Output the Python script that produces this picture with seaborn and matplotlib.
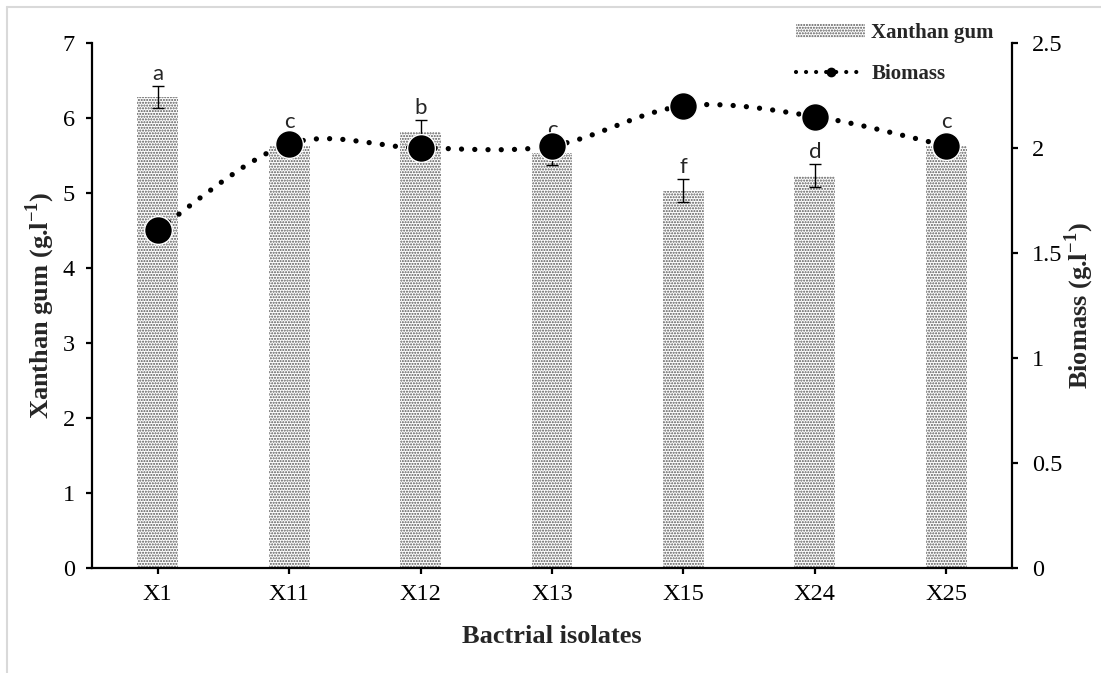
import numpy as np
import matplotlib
matplotlib.use("Agg")
import matplotlib.pyplot as plt
from matplotlib.path import Path
from matplotlib.patches import PathPatch, Patch
from matplotlib.lines import Line2D
import seaborn as sns

# data
isolates = ["X1", "X11", "X12", "X13", "X15", "X24", "X25"]
xanthan = [6.28, 5.63, 5.82, 5.53, 5.03, 5.23, 5.63]
xanthan_err = [0.15, 0.15, 0.15, 0.15, 0.15, 0.15, 0.15]
biomass = [1.61, 2.02, 2.00, 2.01, 2.20, 2.15, 2.01]
letters = ["a", "c", "b", "c", "f", "d", "c"]

sns.set_style("white")
plt.rcParams["font.family"] = ["Liberation Serif", "DejaVu Serif"]
plt.rcParams["mathtext.fontset"] = "custom"
plt.rcParams["mathtext.rm"] = "Liberation Serif"
plt.rcParams["mathtext.bf"] = "Liberation Serif:bold"
plt.rcParams["hatch.linewidth"] = 1.0

fig = plt.figure(figsize=(11.01, 6.73), dpi=100)
ax = fig.add_axes([92 / 1101, 105 / 673, 920 / 1101, 525 / 673])

# bars with a fine dotted texture
sns.barplot(x=isolates, y=xanthan, ax=ax, color="white", width=0.31,
            hatch="......", edgecolor="#555555", linewidth=0, zorder=2)
pos = np.arange(len(isolates))
ax.errorbar(pos, xanthan, yerr=xanthan_err, fmt="none", ecolor="black",
            elinewidth=1.0, capsize=4.5, capthick=1.0, zorder=3)

# significance letters above the error bars
for i, (v, e, t) in enumerate(zip(xanthan, xanthan_err, letters)):
    ax.annotate(t, (i, v + e), xytext=(0, 4.5), textcoords="offset points",
                ha="center", va="baseline", fontsize=16, family="Lato", zorder=3)

ax.set_ylim(0, 7)
ax.set_yticks(range(0, 8))
ax.set_xlim(-0.5, len(isolates) - 0.5)
ax.set_xlabel("Bactrial isolates", fontsize=19, fontweight="bold")
ax.set_ylabel(r"Xanthan gum (g.l$^{\mathbf{-1}}$)", fontsize=19, fontweight="bold")
ax.xaxis.set_label_coords(0.5, -0.108)
ax.yaxis.set_label_coords(-0.038, 0.5)

# biomass on the secondary axis, smoothed dotted line (Excel style)
ax2 = ax.twinx()
xs = pos.astype(float)
ys = np.array(biomass)
verts = [(xs[0], ys[0])]
codes = [Path.MOVETO]
n = len(xs)
for i in range(n - 1):
    p0 = np.array([xs[max(i - 1, 0)], ys[max(i - 1, 0)]])
    p1 = np.array([xs[i], ys[i]])
    p2 = np.array([xs[i + 1], ys[i + 1]])
    p3 = np.array([xs[min(i + 2, n - 1)], ys[min(i + 2, n - 1)]])
    c1 = p1 + (p2 - p0) / 6
    c2 = p2 - (p3 - p1) / 6
    verts += [tuple(c1), tuple(c2), tuple(p2)]
    codes += [Path.CURVE4] * 3
curve = PathPatch(Path(verts, codes), fill=False, edgecolor="black", lw=3.8,
                  linestyle=(0, (0.01, 2.5)), capstyle="round", zorder=4)
ax2.add_patch(curve)
sns.scatterplot(x=xs, y=ys, ax=ax2, s=400, color="black", edgecolor="white",
                linewidth=1, zorder=5, legend=False)
ax2.set_ylim(0, 2.5)
ax2.set_yticks([0, 0.5, 1, 1.5, 2, 2.5])
ax2.set_yticklabels(["0", "0.5", "1", "1.5", "2", "2.5"])
ax2.set_ylabel(r"Biomass (g.l$^{\mathbf{-1}}$)", fontsize=19, fontweight="bold")
ax2.yaxis.set_label_coords(1.055, 0.5)

for a in (ax, ax2):
    for side in ("left", "right", "bottom"):
        a.spines[side].set_color("black")
        a.spines[side].set_linewidth(1.6)
    a.spines["top"].set_visible(False)
    a.tick_params(axis="both", labelsize=17.5, length=4.5, width=1.6,
                  colors="black", direction="out")
ax.tick_params(axis="y", pad=8, left=True)
ax.tick_params(axis="x", pad=7, bottom=True)
ax2.tick_params(axis="y", pad=10, right=True)
ax.spines["right"].set_visible(False)
ax2.spines["left"].set_visible(False)
ax2.spines["bottom"].set_visible(False)

# legend in the top right corner
handles = [
    Patch(facecolor="white", edgecolor="#555555", hatch="......", linewidth=0),
    Line2D([], [], color="black", lw=3.0, linestyle=(0, (0.01, 2.4)),
           dash_capstyle="round", marker="o", markersize=6),
]
fig.legend(handles, ["Xanthan gum", "Biomass"], loc="upper left",
           bbox_to_anchor=(786 / 1101, 1 - 13 / 673), frameon=False,
           prop={"family": "Liberation Serif", "weight": "bold", "size": 15},
           handlelength=3.3, handleheight=0.6, handletextpad=0.3,
           labelspacing=1.0, borderpad=0, numpoints=1)

# light grey chart-area border
fig.add_artist(Line2D([7 / 1101, 7 / 1101], [0, 1 - 7 / 673],
                      transform=fig.transFigure, color="#d9d9d9", lw=1.5))
fig.add_artist(Line2D([7 / 1101, 1], [1 - 7 / 673, 1 - 7 / 673],
                      transform=fig.transFigure, color="#d9d9d9", lw=1.5))

fig.savefig("out.png", dpi=100)
